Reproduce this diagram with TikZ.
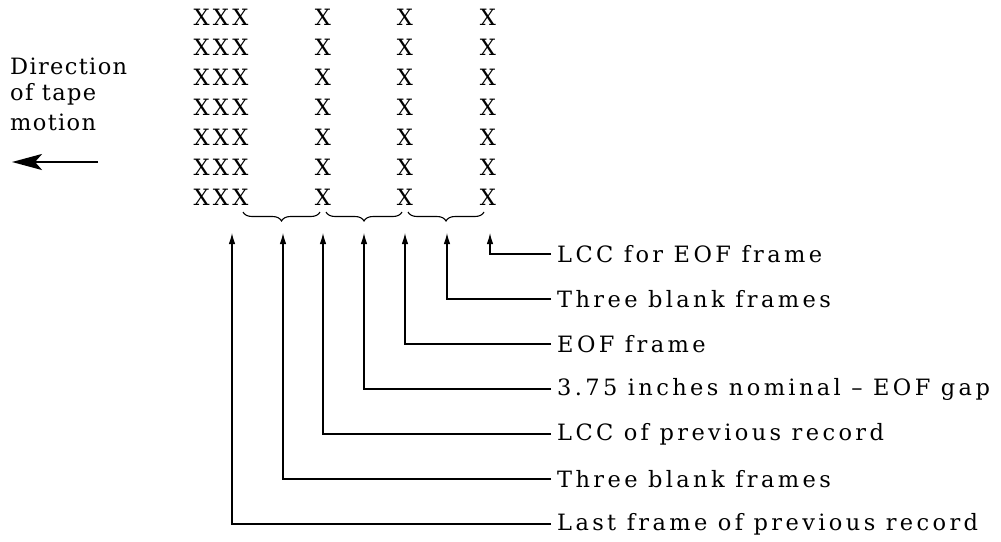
\documentclass[tikz,border=0pt]{standalone}
\usepackage{fontspec}
\setmainfont{DejaVu Serif}[LetterSpace=15]
\newfontfamily\dirfont{DejaVu Serif}[LetterSpace=6]
\usetikzlibrary{arrows.meta,decorations.pathreplacing}
\begin{document}
\begin{tikzpicture}[x=1pt,y=-1pt,
  lbl/.style={anchor=west,inner sep=0pt,font=\fontsize{22.5}{26}\selectfont},
  dirlbl/.style={anchor=west,inner sep=0pt,font=\dirfont\fontsize{22.5}{26}\selectfont},
  xmark/.style={inner sep=0pt,font=\fontsize{22.5}{26}\selectfont},
  conn/.style={line width=1.1pt,-{Latex[length=11pt,width=6.5pt]}},
  brc/.style={line width=1.1pt,decorate,decoration={brace,mirror,amplitude=9pt}}]
\useasboundingbox (0,0) rectangle (1001,541);
% columns of frames
\foreach \r in {0,...,6}{
  \node[xmark] (a\r) at (221,17+30*\r) {XXX};
  \node[xmark] (b\r) at (323,17+30*\r) {X};
  \node[xmark] (c\r) at (405,17+30*\r) {X};
  \node[xmark] (d\r) at (488,17+30*\r) {X};
}
% braces
\draw[brc] (243,212) -- (320,212);
\draw[brc] (326,212) -- (402,212);
\draw[brc] (408,212) -- (484,212);
% direction of tape motion
\node[dirlbl] (dir1) at (10,66) {Direction};
\node[dirlbl] (dir2) at (10,94) {of tape};
\node[dirlbl] (dir3) at (10,122) {motion};
\coordinate (dirR) at (98,162);
\coordinate (dirL) at (12,162);
\draw[line width=2.5pt,-{Stealth[length=30pt,width=16pt,inset=7pt]}] (dirR) -- (dirL);
% labels
\node[lbl] (l1) at (557,254) {LCC for EOF frame};
\node[lbl] (l2) at (557,299) {Three blank frames};
\node[lbl] (l3) at (557,344) {EOF frame};
\node[lbl] (l4) at (557,389) {3.75 inches nominal -- EOF gap};
\node[lbl] (l5) at (557,434) {LCC of previous record};
\node[lbl] (l6) at (557,479) {Three blank frames};
\node[lbl] (l7) at (557,524) {Last frame of previous record};
% arrow tips
\coordinate (t1) at (490,233);
\coordinate (t2) at (447,233);
\coordinate (t3) at (405,233);
\coordinate (t4) at (364,233);
\coordinate (t5) at (323,233);
\coordinate (t6) at (283,233);
\coordinate (t7) at (232,233);
\foreach \i in {1,...,7}{
  \draw[conn] ([xshift=-6pt]l\i.west) -| (t\i);
}
\end{tikzpicture}
\end{document}
